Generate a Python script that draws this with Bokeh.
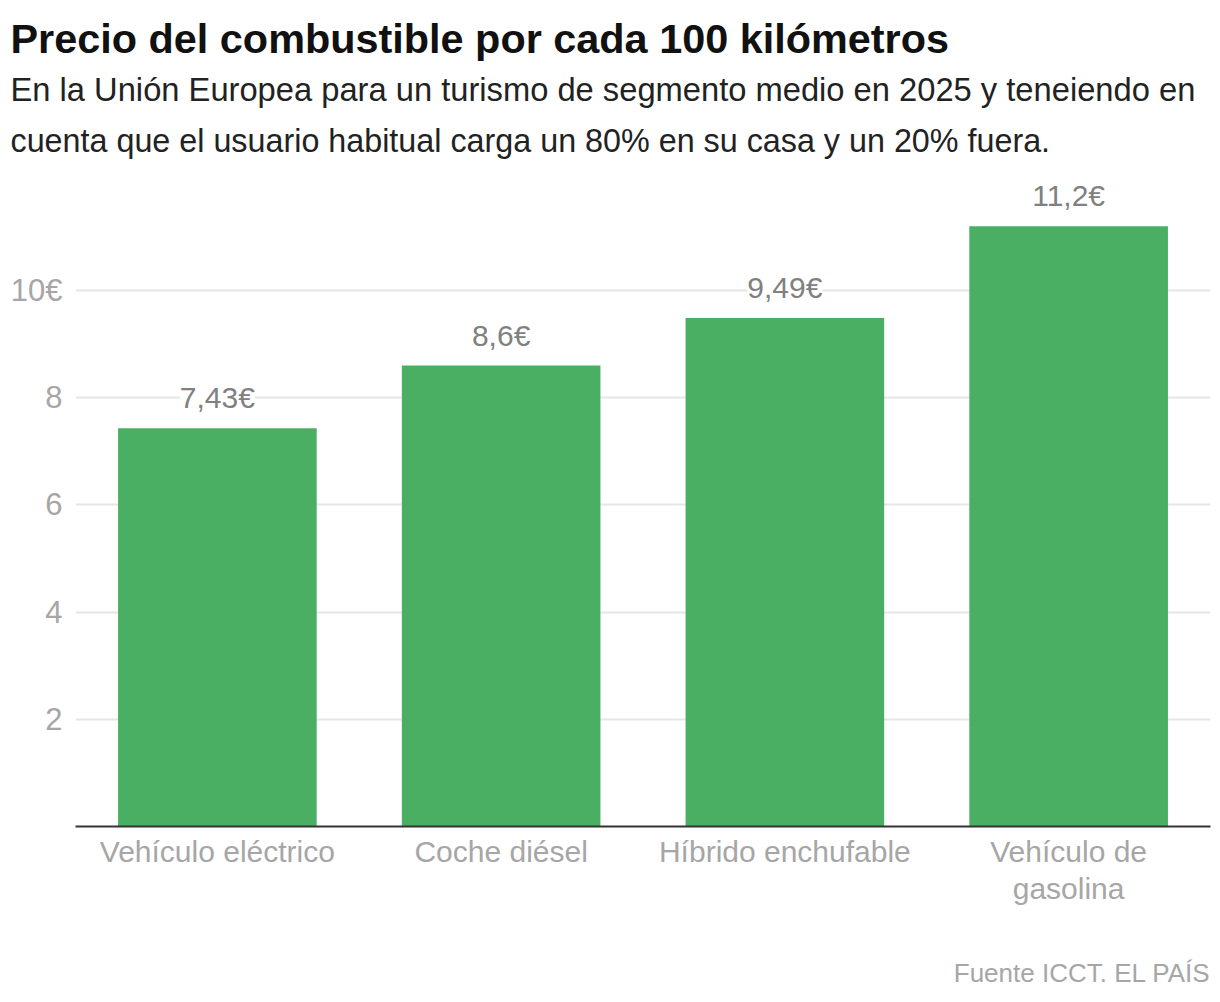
from bokeh.plotting import figure
from bokeh.models import ColumnDataSource, FactorRange, LabelSet, FixedTicker, Title
from bokeh.core.properties import value
from bokeh.embed import file_html
from bokeh.resources import INLINE

categories = ["Vehículo eléctrico", "Coche diésel", "Híbrido enchufable", "Vehículo de\ngasolina"]
values = [7.43, 8.6, 9.49, 11.2]
value_labels = ["7,43€", "8,6€", "9,49€", "11,2€"]
y_ticks = [2, 4, 6, 8, 10]
y_tick_labels = ["2", "4", "6", "8", "10€"]
title = "Precio del combustible por cada 100 kilómetros"
subtitle = ["En la Unión Europea para un turismo de segmento medio en 2025 y teneiendo en",
            "cuenta que el usuario habitual carga un 80% en su casa y un 20% fuera."]
source_text = "Fuente ICCT. EL PAÍS"

W, H = 1220, 1002
FONT = "Liberation Sans"
GREEN = "#4aaf63"

src = ColumnDataSource(dict(cat=categories, val=values, lab=value_labels))
p = figure(width=W, height=H, output_backend="svg", toolbar_location=None,
           x_range=FactorRange(factors=categories, range_padding=0),
           y_range=(0, 12.24),
           min_border_left=75, min_border_right=10, min_border_top=170, min_border_bottom=176)
p.outline_line_color = None
p.background_fill_color = "white"
p.vbar(x="cat", top="val", width=0.7, bottom=0, source=src, color=GREEN, line_color=None)

p.xgrid.visible = False
p.ygrid.grid_line_color = "#e6e6e6"
p.ygrid.grid_line_width = 2
p.ygrid.ticker = FixedTicker(ticks=y_ticks)

p.yaxis.ticker = FixedTicker(ticks=y_ticks)
p.yaxis.major_label_overrides = {t: l for t, l in zip(y_ticks, y_tick_labels)}
p.yaxis.axis_line_color = None
p.yaxis.major_tick_line_color = None
p.yaxis.minor_tick_line_color = None
p.yaxis.major_label_text_font = FONT
p.yaxis.major_label_text_font_size = "31px"
p.yaxis.major_label_text_color = "#a6a6a6"
p.yaxis.major_label_standoff = 7

p.xaxis.axis_line_color = "#333333"
p.xaxis.axis_line_width = 2
p.xaxis.major_tick_line_color = None
p.xaxis.minor_tick_line_color = None
p.xaxis.major_label_text_font = FONT
p.xaxis.major_label_text_font_size = "30px"
p.xaxis.major_label_text_color = "#a6a6a6"
p.xaxis.major_label_text_line_height = 1.15
p.xaxis.major_label_standoff = 2

p.add_layout(LabelSet(x="cat", y="val", text="lab", source=src, y_offset=14,
                      text_align="center", text_baseline="bottom", text_font=value(FONT),
                      text_font_size=value("30px"), text_color=value("#808080"),
                      background_fill_color=value("white")))

def add_text(text, place, offset, standoff, size, color, style="normal", align="left"):
    p.add_layout(Title(text=text, align=align, offset=offset, standoff=standoff,
                       text_font=FONT, text_font_size=size, text_color=color,
                       text_font_style=style), place)

add_text(subtitle[1], "above", -65, 24, "32.3px", "#222222")
add_text(subtitle[0], "above", -65, 2, "32.7px", "#222222")
add_text(title, "above", -65, 12, "41.4px", "#111111", "bold")
add_text(" ", "below", 0, 12, "26px", "#a6a6a6", align="right")
add_text(source_text, "below", 0, 6, "26px", "#a6a6a6", align="right")

open("out.html", "w").write(file_html(p, INLINE))
